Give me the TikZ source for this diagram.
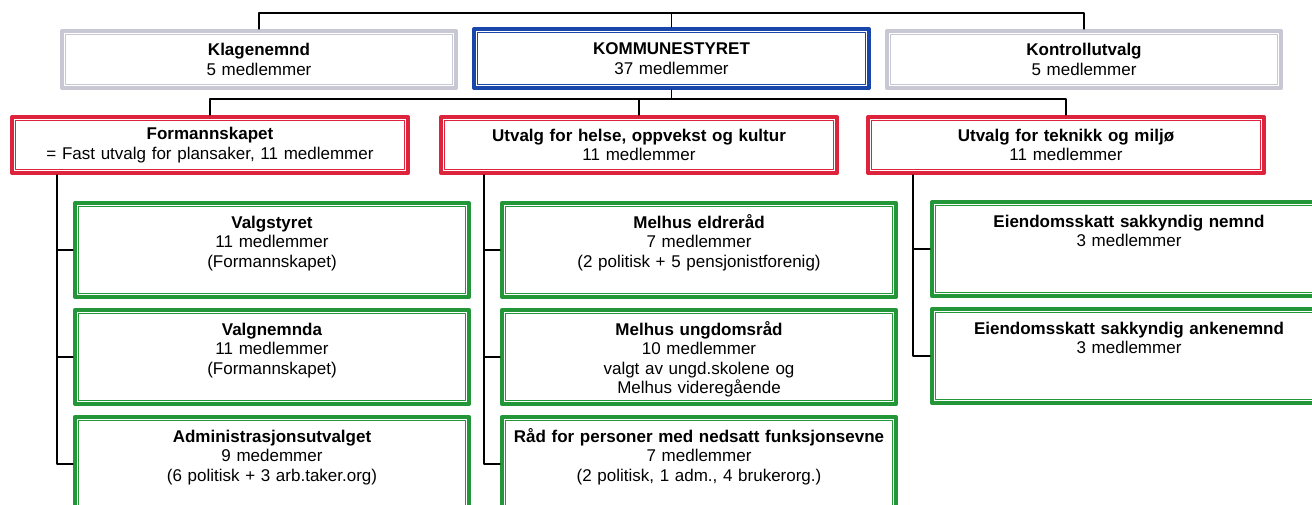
\documentclass[tikz,border=0pt]{standalone}
\usepackage{fontspec}
\setmainfont{Liberation Sans}
\usepackage{tikz}
\usetikzlibrary{positioning}
\definecolor{framegrey}{RGB}{200,200,212}
\definecolor{frameblue}{RGB}{25,70,170}
\definecolor{framered}{RGB}{222,35,60}
\definecolor{framegreen}{RGB}{35,150,55}
\tikzset{
  orgframe/.style={rectangle, draw=#1, line width=4pt, fill=white, anchor=north west,
    inner xsep=6pt, align=center, font=\fontsize{17}{19.5}\selectfont,
    path picture={\draw[#1, line width=1.1pt]
      ([xshift=3.9pt,yshift=-3.9pt]path picture bounding box.north west) rectangle
      ([xshift=-3.9pt,yshift=3.9pt]path picture bounding box.south east);}},
  sidebox/.style={orgframe=framegrey, text width=382pt, minimum height=57pt},
  councilbox/.style={orgframe=frameblue, text width=383pt, minimum height=59pt},
  committeebox/.style={orgframe=framered, text width=384pt, minimum height=56pt},
  boardbox/.style={orgframe=framegreen, text width=382pt, inner ysep=12pt,
    text height=13pt, text depth=57pt},
  conn/.style={line width=1.1pt, black}
}
\begin{document}
\begin{tikzpicture}[line cap=round,line join=round, x=1pt,y=-1pt]
\useasboundingbox (0,0) rectangle (1312,504);
\clip (0,0) rectangle (1312,504);
% top level
\node[sidebox] (klage) at (60,29) {\textbf{Klagenemnd}\\5 medlemmer};
\node[councilbox] (kommune) at (472,27) {\textbf{KOMMUNESTYRET}\\37 medlemmer};
\node[sidebox] (kontroll) at (885,29) {\textbf{Kontrollutvalg}\\5 medlemmer};
% committees
\node[committeebox] (formann) at (10,115) {\textbf{Formannskapet}\\= Fast utvalg for plansaker, 11 medlemmer};
\node[committeebox] (helse) at (439,115) {\textbf{Utvalg for helse, oppvekst og kultur}\\11 medlemmer};
\node[committeebox] (teknikk) at (866,115) {\textbf{Utvalg for teknikk og miljø}\\11 medlemmer};
% boards under Formannskapet
\node[boardbox] (valgstyret) at (73,201) {\textbf{Valgstyret}\\11 medlemmer\\(Formannskapet)};
\node[boardbox] (valgnemnda) at (73,308) {\textbf{Valgnemnda}\\11 medlemmer\\(Formannskapet)};
\node[boardbox] (admin) at (73,415) {\textbf{Administrasjonsutvalget}\\9 medemmer\\(6 politisk + 3 arb.taker.org)};
% boards under helse
\node[boardbox] (eldre) at (500,201) {\textbf{Melhus eldreråd}\\7 medlemmer\\(2 politisk + 5 pensjonistforenig)};
\node[boardbox] (ungdom) at (500,308) {\textbf{Melhus ungdomsråd}\\10 medlemmer\\valgt av ungd.skolene og\\Melhus videregående};
\node[boardbox] (raad) at (500,415) {\textbf{Råd for personer med nedsatt funksjonsevne}\\7 medlemmer\\(2 politisk, 1 adm., 4 brukerorg.)};
% boards under teknikk
\node[boardbox] (nemnd) at (930,200) {\textbf{Eiendomsskatt sakkyndig nemnd}\\3 medlemmer};
\node[boardbox] (anke) at (930,307) {\textbf{Eiendomsskatt sakkyndig ankenemnd}\\3 medlemmer};
% connectors
\coordinate (topbar) at (0,13);
\coordinate (midbar) at (0,99);
\coordinate (trunkL) at (57,0);
\coordinate (trunkM) at (484,0);
\coordinate (trunkR) at (913,0);
\draw[conn] (klage.north) |- (kontroll.north |- topbar) -- (kontroll.north);
\draw[conn] (kommune.north) -- (kommune.north |- topbar);
\draw[conn] (kommune.south) -- (kommune.south |- midbar);
\draw[conn] (formann.north) |- (teknikk.north |- midbar) -- (teknikk.north);
\draw[conn] (helse.north) -- (helse.north |- midbar);
\draw[conn] (formann.south -| trunkL) |- (admin.west);
\foreach \b in {valgstyret,valgnemnda}
  \draw[conn] (\b.west) -- (\b.west -| trunkL);
\draw[conn] (helse.south -| trunkM) |- (raad.west);
\foreach \b in {eldre,ungdom}
  \draw[conn] (\b.west) -- (\b.west -| trunkM);
\draw[conn] (teknikk.south -| trunkR) |- (anke.west);
\draw[conn] (nemnd.west) -- (nemnd.west -| trunkR);
\end{tikzpicture}
\end{document}
